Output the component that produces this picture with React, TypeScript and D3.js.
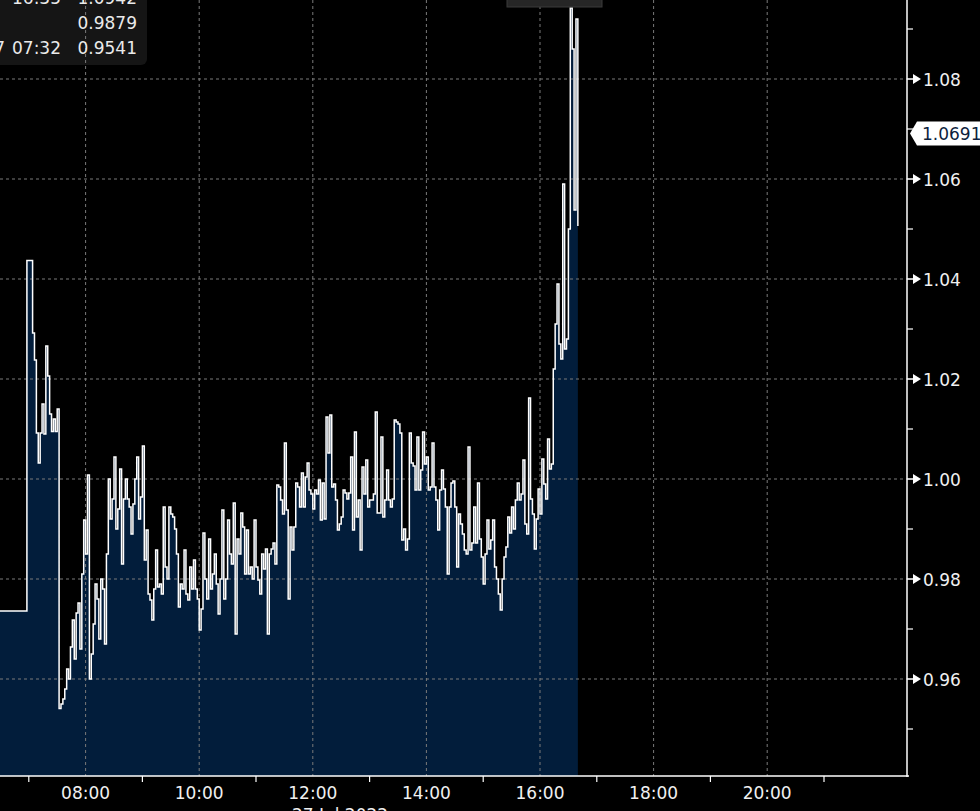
import React from "react";
import * as d3 from "d3";

// ---- data ----
const prevCloseTime = 360; // minutes since midnight (06:00)
const prevClose = 0.9736;
const startMinute = 418; // 06:58
const stepMinutes = 2;
const values: number[] = [
  1.0437, 1.0437, 1.0437, 1.0292, 1.0238, 1.0092, 1.0032, 1.0092, 1.015, 1.009,
  1.0266, 1.0206, 1.013, 1.0095, 1.012, 1.0095, 1.014, 0.9541, 0.955, 0.956,
  0.958, 0.962, 0.96, 0.9664, 0.9718, 0.964, 0.9732, 0.9752, 0.966, 0.981,
  0.9918, 0.985, 1.0008, 0.96, 0.965, 0.971, 0.979, 0.976, 0.968, 0.98,
  0.978, 0.967, 0.985, 1.0, 0.992, 0.996, 1.0044, 0.99, 0.994, 1.002,
  0.983, 0.996, 1.0, 0.996, 0.9944, 0.989, 0.995, 1.0, 1.0044, 0.992,
  0.9964, 1.0066, 0.9838, 0.9898, 0.977, 0.9758, 0.9718, 0.978, 0.9858, 0.9784,
  0.979, 0.977, 0.9944, 0.9824, 0.98, 0.9944, 0.993, 0.9924, 0.99, 0.985,
  0.9744, 0.979, 0.978, 0.9858, 0.977, 0.9758, 0.9824, 0.978, 0.9838, 0.978,
  0.976, 0.9698, 0.974, 0.9892, 0.98, 0.976, 0.988, 0.978, 0.981, 0.985,
  0.979, 0.973, 0.98, 0.9938, 0.976, 0.98, 0.9918, 0.985, 0.983, 0.9952,
  0.969, 0.988, 0.985, 0.9932, 0.9904, 0.981, 0.9898, 0.981, 0.9824, 0.98,
  0.9918, 0.9824, 0.9798, 0.977, 0.985, 0.982, 0.986, 0.969, 0.985, 0.986,
  0.9872, 0.983, 0.9988, 0.9984, 0.9958, 0.993, 1.0072, 0.9938, 0.976, 0.9904,
  0.9858, 0.9904, 0.9992, 0.9984, 0.9944, 1.0012, 0.9944, 1.0004, 1.0032, 0.9978,
  0.997, 0.994, 0.9978, 0.997, 0.9998, 0.9918, 0.9992, 0.992, 1.0124, 1.0052,
  1.0128, 0.9984, 0.999, 0.9958, 0.9898, 0.991, 0.9924, 0.9978, 0.9972, 0.996,
  0.9972, 1.0044, 0.9898, 1.0094, 0.9924, 0.9958, 0.9858, 1.0024, 0.997, 1.0038,
  0.9944, 0.9958, 0.9958, 0.997, 1.0134, 0.9932, 0.9932, 1.0084, 0.9924, 0.9958,
  1.0018, 0.9958, 0.9944, 0.996, 1.0118, 1.0114, 1.011, 1.0092, 0.9878, 0.99,
  0.9858, 0.988, 1.0092, 1.0032, 1.0026, 0.9978, 1.0084, 0.9978, 1.0018, 1.0094,
  1.003, 1.0044, 0.9978, 0.9984, 1.0072, 0.9984, 0.9958, 0.9898, 0.9978, 1.0018,
  0.998, 0.9944, 0.981, 0.9944, 0.9992, 0.9996, 0.9944, 0.9824, 0.993, 0.991,
  0.989, 0.9858, 0.985, 1.0064, 0.9858, 0.9872, 0.9944, 0.9872, 0.9992, 0.988,
  0.9844, 0.979, 0.985, 0.9918, 0.986, 0.9878, 0.9918, 0.9824, 0.98, 0.977,
  0.9738, 0.98, 0.9844, 0.9864, 0.9924, 0.9892, 0.9944, 0.99, 0.9958, 0.9992,
  0.9958, 0.997, 1.0038, 0.991, 0.989, 1.0162, 0.996, 0.993, 0.986, 0.992,
  0.998, 0.993, 1.004, 0.999, 0.996, 1.008, 1.002, 1.003, 1.022, 1.031,
  1.039, 1.027, 1.024, 1.059, 1.026, 1.028, 1.05, 1.0942, 1.086, 1.0538,
  1.092, 1.0506,
];
const yTicks = [0.96, 0.98, 1.0, 1.02, 1.04, 1.06, 1.08];
const yMinorTicks = [0.95, 0.97, 0.99, 1.01, 1.03, 1.05, 1.07, 1.09];
const xTickHours = [8, 10, 12, 14, 16, 18, 20];
const xMinorHours = [7, 9, 11, 13, 15, 17, 19, 21];
const dateLabel = "27 Jul 2022";
const lastValue = 1.0691;
const statRows = [
  { time: "16:35", value: "1.0942" },
  { time: "", value: "0.9879" },
  { time: "07:32", value: "0.9541" },
];

const W = 980;
const H = 811;
const axisX = 907;
const axisY = 776;
const FONT = "DejaVu Sans, sans-serif";

export default function App() {
  const x = d3.scaleLinear().domain([8 * 60, 20 * 60]).range([85.6, 767.2]);
  const y = d3.scaleLinear().domain([0.96, 1.08]).range([679, 79]);

  const pts: [number, number][] = [[prevCloseTime, prevClose]];
  values.forEach((v, i) => pts.push([startMinute + i * stepMinutes, v]));

  const area = d3
    .area<[number, number]>()
    .curve(d3.curveStepAfter)
    .x((d) => x(d[0]))
    .y0(axisY)
    .y1((d) => y(d[1]));
  const line = d3
    .line<[number, number]>()
    .curve(d3.curveStepAfter)
    .x((d) => x(d[0]))
    .y((d) => y(d[1]));

  const grid = "#7a7a7a";
  const ly = y(lastValue);

  return (
    <svg
      width={W}
      height={H}
      style={{ position: "fixed", left: 0, top: 0, background: "#000" }}
      fontFamily={FONT}
    >
      <rect x={0} y={0} width={W} height={H} fill="#000" />
      <defs>
        <clipPath id="plot">
          <rect x={0} y={0} width={axisX} height={axisY} />
        </clipPath>
      </defs>
      <g clipPath="url(#plot)">
        <path d={area(pts) || ""} fill="#021d3b" />
        {/* stats box */}
        <rect x={-10} y={-10} width={157} height={75} rx={6} fill="#151515" />
        {yTicks.map((t) => (
          <line
            key={"gy" + t}
            x1={0}
            x2={axisX}
            y1={y(t)}
            y2={y(t)}
            stroke={grid}
            strokeWidth={1}
            strokeDasharray="3,3"
          />
        ))}
        {xTickHours.map((h) => (
          <line
            key={"gx" + h}
            x1={x(h * 60)}
            x2={x(h * 60)}
            y1={0}
            y2={axisY}
            stroke={grid}
            strokeWidth={1}
            strokeDasharray="3,3"
          />
        ))}
        <path d={line(pts) || ""} fill="none" stroke="#fff" strokeWidth={1.5} />
      </g>
      {/* stats text */}
      {statRows.map((r, i) => (
        <g key={"s" + i} fontSize={17} fill="#eaeaea">
          {r.time && (
            <text x={12} y={3.5 + i * 25}>
              {r.time}
            </text>
          )}
          <text x={137} y={3.5 + i * 25} textAnchor="end">
            {r.value}
          </text>
        </g>
      ))}
      <text x={5} y={53.5} fontSize={17} fill="#eaeaea" textAnchor="end">
        27/07
      </text>
      {/* top center tooltip stub */}
      <rect x={507} y={-10} width={95} height={17} fill="#262626" stroke="#3a3a3a" />

      {/* axes */}
      <line x1={axisX} x2={axisX} y1={0} y2={axisY + 1} stroke="#fff" strokeWidth={1.5} />
      <line x1={0} x2={axisX + 2} y1={axisY} y2={axisY} stroke="#fff" strokeWidth={1.5} />
      {yMinorTicks.map((t) => (
        <line key={"ym" + t} x1={axisX} x2={axisX + 6} y1={y(t)} y2={y(t)} stroke="#fff" strokeWidth={1.2} />
      ))}
      {yTicks.map((t) => (
        <g key={"yt" + t}>
          <path
            d={`M${axisX},${y(t) - 0.8}L${axisX + 6},${y(t) - 0.8}L${axisX + 6},${y(t) - 5}L${axisX + 14},${y(t)}L${axisX + 6},${y(t) + 5}L${axisX + 6},${y(t) + 0.8}L${axisX},${y(t) + 0.8}Z`}
            fill="#fff"
          />
          <text x={923} y={y(t) + 6.5} fontSize={17} fill="#f0f0f0">
            {t.toFixed(2)}
          </text>
        </g>
      ))}
      {xMinorHours.map((h) => (
        <line
          key={"xm" + h}
          x1={x(h * 60)}
          x2={x(h * 60)}
          y1={axisY}
          y2={axisY + 6}
          stroke="#fff"
          strokeWidth={1.2}
        />
      ))}
      {xTickHours.map((h) => (
        <text key={"xl" + h} x={x(h * 60)} y={799} fontSize={17} fill="#f0f0f0" textAnchor="middle">
          {String(h).padStart(2, "0") + ":00"}
        </text>
      ))}
      <text x={340} y={821} fontSize={17} fill="#f0f0f0" textAnchor="middle">
        {dateLabel}
      </text>

      {/* last value label */}
      <path
        d={`M910,${ly}L917,${ly - 12}L${W + 5},${ly - 12}L${W + 5},${ly + 12}L917,${ly + 12}Z`}
        fill="#fff"
      />
      <text x={922} y={ly + 6.5} fontSize={17} fill="#0e1f3d">
        {lastValue.toFixed(4)}
      </text>
    </svg>
  );
}
